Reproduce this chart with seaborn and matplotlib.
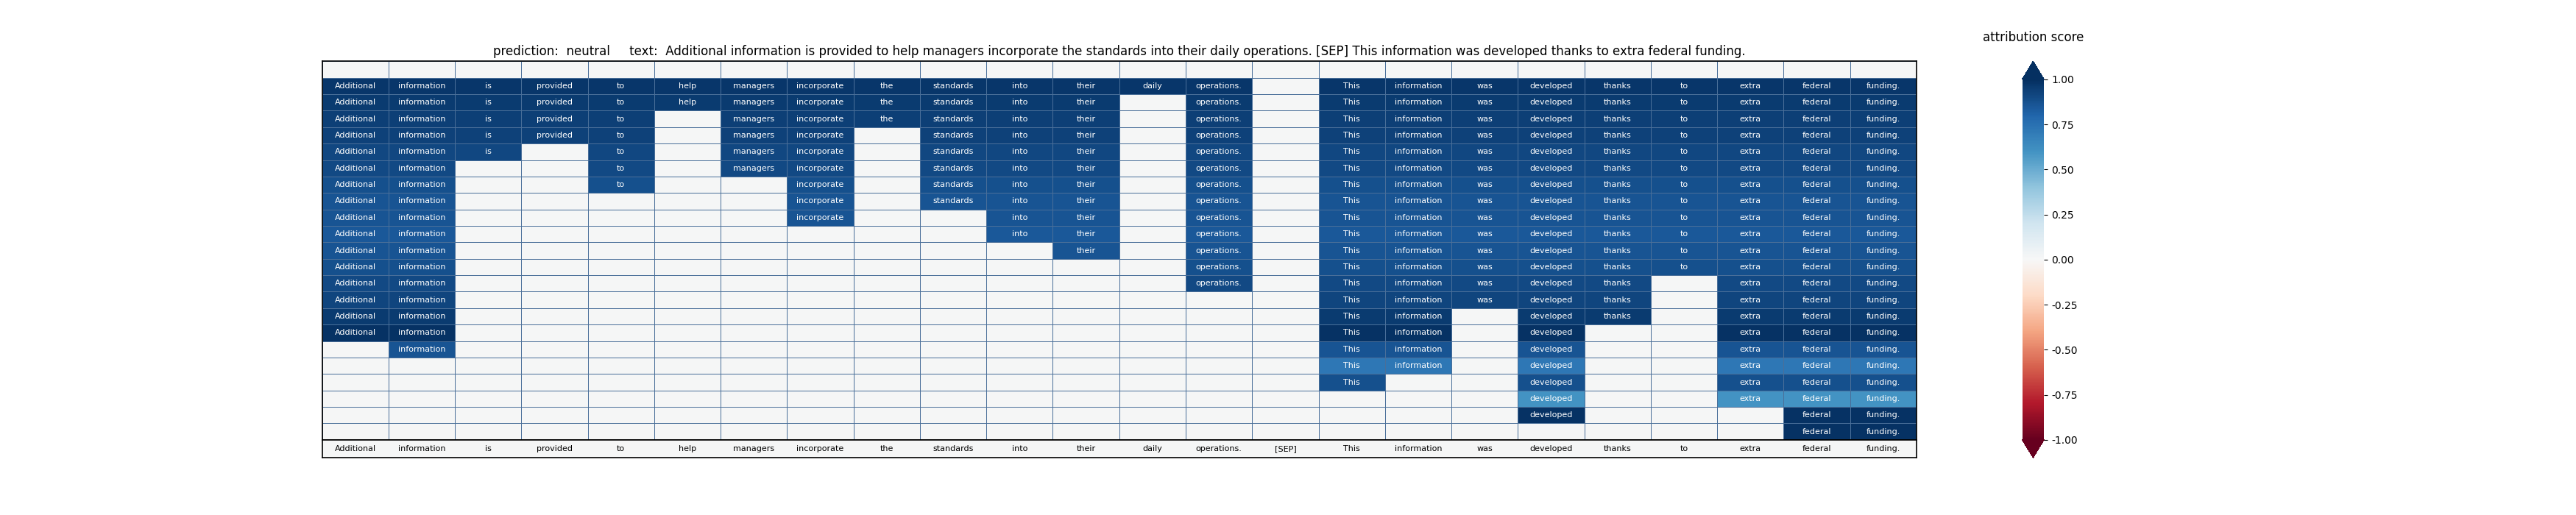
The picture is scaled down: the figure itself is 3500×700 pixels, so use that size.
import numpy as np
import matplotlib
matplotlib.use("Agg")
import matplotlib.pyplot as plt
import seaborn as sns

tokens = ["Additional", "information", "is", "provided", "to", "help", "managers",
          "incorporate", "the", "standards", "into", "their", "daily", "operations.",
          "[SEP]", "This", "information", "was", "developed", "thanks", "to", "extra",
          "federal", "funding."]
# number of steps (rows from the top) each token stays in the explanation
lengths = [16, 17, 5, 4, 7, 2, 6, 9, 3, 8, 10, 11, 1, 13,
           0, 19, 18, 14, 21, 15, 12, 20, 22, 22]
# attribution score per step (row)
row_scores = [0.97, 0.96, 0.94, 0.93, 0.91, 0.90, 0.88, 0.86, 0.86, 0.85, 0.86,
              0.88, 0.90, 0.92, 0.96, 0.99, 0.86, 0.72, 0.88, 0.60, 0.99, 0.99]
title = ("prediction:  neutral     text:  Additional information is provided to help managers "
         "incorporate the standards into their daily operations. [SEP] This information "
         "was developed thanks to extra federal funding.")

n_rows = len(row_scores) + 1  # first row stays empty
n_cols = len(tokens)
vals = np.zeros((n_rows, n_cols))
mask = np.ones((n_rows, n_cols), dtype=bool)
labels = np.full((n_rows, n_cols), "", dtype=object)
for j, (tok, ln) in enumerate(zip(tokens, lengths)):
    for i in range(ln):
        vals[i + 1, j] = row_scores[i]
        mask[i + 1, j] = False
        labels[i + 1, j] = tok

fig = plt.figure(figsize=(35, 7), dpi=100)
ax = fig.add_axes([0.125, 0.146, 0.619, 0.735])
ax.set_facecolor("#f5f6f6")
sns.heatmap(vals, mask=mask, cmap="RdBu", vmin=-1, vmax=1, annot=labels, fmt="",
            annot_kws={"color": "white", "fontsize": 8}, linewidths=0.6,
            linecolor="#4a6f99", cbar=False, ax=ax)
ax.set_xticks([]); ax.set_yticks([])
for s in ax.spines.values():
    s.set_visible(True); s.set_linewidth(1.2); s.set_color("black")
ax.set_title(title, fontsize=12, pad=6)

ax2 = fig.add_axes([0.125, 0.111, 0.619, 0.035])
ax2.set_facecolor("#f5f6f6")
ax2.set_xlim(0, n_cols); ax2.set_ylim(0, 1)
for j, tok in enumerate(tokens):
    ax2.text(j + 0.5, 0.5, tok, ha="center", va="center", fontsize=8, color="black")
ax2.set_xticks([]); ax2.set_yticks([])
for s in ax2.spines.values():
    s.set_linewidth(1.2); s.set_color("black")

cax = fig.add_axes([0.785, 0.111, 0.0085, 0.77])
sm = matplotlib.cm.ScalarMappable(norm=matplotlib.colors.Normalize(-1, 1), cmap="RdBu")
cb = fig.colorbar(sm, cax=cax, extend="both", ticks=np.arange(-1, 1.01, 0.25))
cb.ax.yaxis.set_major_formatter(matplotlib.ticker.FormatStrFormatter("%.2f"))
cb.ax.tick_params(labelsize=10)
cb.outline.set_visible(False)
cax.set_title("attribution score", fontsize=12, pad=20)

fig.savefig("out.png", dpi=100)
